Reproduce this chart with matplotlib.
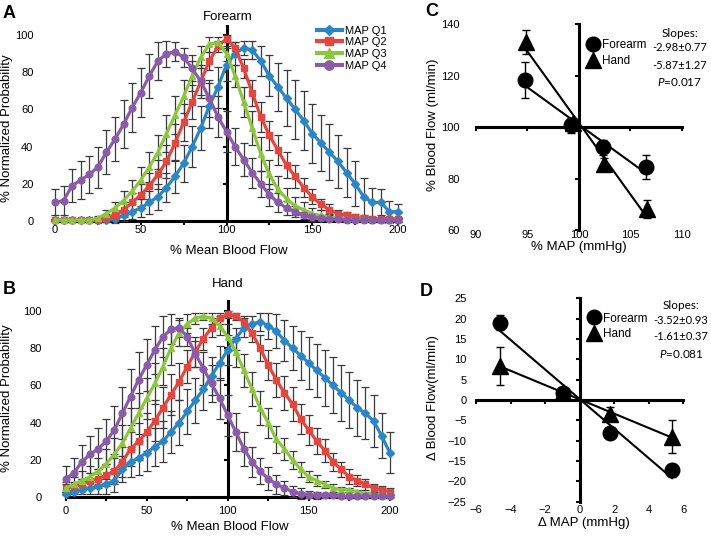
import matplotlib
matplotlib.use('Agg')
import matplotlib.pyplot as plt
from matplotlib.lines import Line2D
import numpy as np

plt.rcParams['font.family'] = ['Liberation Sans', 'DejaVu Sans']
plt.rcParams['mathtext.fontset'] = 'custom'
plt.rcParams['mathtext.it'] = 'Lato:italic'
plt.rcParams['mathtext.rm'] = 'Lato'

# ---------------- data ----------------
flow_pct = [0, 5, 10, 15, 20, 25, 30, 35, 40, 45, 50, 55, 60, 65, 70, 75, 80, 85, 90, 95, 100,
            105, 110, 115, 120, 125, 130, 135, 140, 145, 150, 155, 160, 165, 170, 175, 180, 185, 190, 195, 200]

series_names = ['MAP Q1', 'MAP Q2', 'MAP Q3', 'MAP Q4']

# Panel A (Forearm)
fa_q1 = [0.5, 0.5, 0.5, 0.5, 0.5, 0.5, 0.5, 1, 3, 5, 7, 10, 13, 18, 24, 31, 40, 50, 62, 72, 84,
         90, 93, 92, 86, 78, 72, 66, 60, 54, 47, 42, 37, 32, 26, 20, 13, 10, 10, 5, 5]
fa_q2 = [0.5, 0.5, 0.5, 0.5, 0.5, 0.5, 1.5, 3, 6, 10, 14, 19, 25, 32, 42, 53, 64, 75, 86, 94, 98,
         93, 82, 69, 56, 46, 38, 30, 24, 18, 13, 9, 6, 4, 3, 2, 1.5, 1, 1, 1, 1]
fa_q3 = [0.5, 0.5, 0.5, 0.5, 0.5, 1.5, 4, 7, 11, 16, 22, 29, 37, 47, 57, 67, 78, 88, 95, 96, 90,
         78, 64, 50, 36, 25, 17, 12, 8, 6, 4, 3, 2, 1.5, 1, 1, 1, 0.5, 0.5, 0.5, 0.5]
fa_q4 = [10, 11, 19, 22, 25, 29, 37, 44, 52, 61, 69, 78, 86, 90, 91, 88, 82, 75, 66, 56, 48,
         40, 33, 26, 20, 14, 10, 7, 5, 3, 2, 1.5, 1, 1, 0.5, 0.5, 0.5, 0.5, 0.5, 0.5, 0.5]
fa_q1_sd = [0.5, 0.5, 0.5, 0.5, 0.5, 0.5, 1, 2, 3, 4, 5, 6, 7, 8, 9, 10, 11, 12, 12, 11, 9,
            6, 4, 5, 8, 11, 13, 15, 16, 16, 16, 15, 15, 14, 13, 12, 10, 8, 7, 6, 4]
fa_q2_sd = [0.5, 0.5, 0.5, 0.5, 0.5, 1, 2, 3, 4, 5, 6, 7, 8, 9, 10, 10, 9, 7, 5, 3, 2,
            3, 5, 7, 8, 8, 8, 7, 6, 5, 4, 3, 3, 2, 2, 1.5, 1, 1, 1, 1, 1]
fa_q3_sd = [0.5, 0.5, 0.5, 0.5, 0.5, 1, 2, 3, 5, 6, 7, 8, 9, 10, 10, 9, 8, 6, 4, 3, 4,
            6, 8, 9, 9, 8, 7, 6, 5, 4, 3, 3, 2, 1, 1, 1, 1, 1, 1, 1, 1]
fa_q4_sd = [7, 8, 9, 10, 10, 11, 12, 12, 13, 13, 13, 12, 10, 7, 5, 5, 7, 9, 10, 11, 11,
            10, 9, 8, 7, 6, 5, 4, 3, 2, 2, 1, 1, 1, 1, 1, 1, 1, 1, 1, 1]

# Panel B (Hand)
hd_q1 = [2, 3, 4, 5, 6, 7, 9, 15, 19, 21, 24, 27, 30, 35, 40, 46, 52, 58, 65, 72, 79,
         85, 91, 93, 94, 92, 89, 84, 80, 76, 72, 68, 64, 60, 56, 52, 48, 45, 41, 33, 24]
hd_q2 = [5, 6, 7, 9, 10, 12, 14, 19, 26, 30, 35, 41, 48, 55, 62, 70, 78, 85, 91, 96, 98,
         97, 94, 88, 80, 71, 63, 56, 50, 42, 36, 30, 25, 19, 15, 11, 9, 7, 5, 4, 3]
hd_q3 = [5, 7, 9, 11, 14, 18, 23, 29, 37, 45, 53, 61, 70, 80, 88, 93, 96, 97, 96, 92, 86,
         78, 68, 58, 48, 40, 31, 26, 20, 15, 11, 9, 7, 5, 4, 4, 3, 2, 1.5, 1, 1]
hd_q4 = [10, 13, 19, 23, 26, 30, 36, 45, 54, 63, 71, 79, 86, 90, 91, 86, 77, 69, 61, 53, 44,
         35, 26, 19, 14, 10, 7, 5, 3, 2, 1.5, 1, 1, 1, 0.5, 0.5, 0.5, 0.5, 0.5, 0.5, 0.5]
hd_q1_sd = [1, 1, 2, 3, 4, 5, 6, 7, 8, 9, 10, 10, 11, 11, 12, 12, 12, 11, 10, 9, 8,
            6, 5, 4, 5, 7, 9, 11, 12, 13, 14, 14, 15, 15, 15, 15, 15, 14, 14, 12, 11]
hd_q2_sd = [2, 2, 3, 4, 5, 6, 7, 8, 9, 10, 10, 11, 11, 11, 10, 9, 8, 6, 5, 3, 2,
            2, 3, 5, 7, 8, 9, 9, 9, 8, 8, 7, 6, 5, 4, 4, 3, 3, 2, 2, 2]
hd_q3_sd = [3, 4, 5, 6, 7, 8, 9, 10, 11, 11, 11, 11, 10, 9, 7, 5, 3, 2, 3, 5, 7,
            8, 9, 9, 9, 8, 7, 6, 5, 4, 3, 3, 2, 2, 1.5, 1, 1, 1, 1, 1, 1]
hd_q4_sd = [7, 8, 9, 10, 11, 12, 13, 14, 15, 15, 14, 13, 11, 8, 5, 5, 7, 9, 10, 11, 11,
            10, 9, 8, 7, 6, 5, 4, 3, 3, 2, 2, 1.5, 1, 1, 1, 1, 1, 1, 1, 1]

# Panel C (% change)
c_map_fa = [94.8, 99.2, 102.3, 106.5]
c_bf_fa = [118.4, 100.6, 92.1, 84.5]
c_bf_fa_err = [7, 3, 3, 4.5]
c_map_hd = [94.9, 99.4, 102.4, 106.6]
c_bf_hd = [133, 101.5, 85.6, 68.1]
c_bf_hd_err = [4.5, 2, 2.5, 3.5]

# Panel D (absolute change)
d_map_fa = [-4.63, -0.94, 1.77, 5.35]
d_bf_fa = [19.0, 1.6, -8.0, -17.3]
d_bf_fa_err = [1.9, 1.0, 0.8, 1.6]
d_map_hd = [-4.63, -0.94, 1.77, 5.35]
d_bf_hd = [8.4, 1.9, -3.4, -9.0]
d_bf_hd_err = [4.6, 1.0, 1.8, 4.0]

slopes_c = ['-2.98\u00b10.77', '-5.87\u00b11.27']
p_c = '0.017'
slopes_d = ['-3.52\u00b10.93', '-1.61\u00b10.37']
p_d = '0.081'

# ---------------- styles ----------------
colors = ['#2C86C4', '#E3463E', '#8CC63F', '#8A5BA8']
markers = ['D', 's', '^', 'o']
msizes = [3.6, 4.2, 5.0, 4.8]

W, H = 711, 536
fig = plt.figure(figsize=(W / 100, H / 100), dpi=100)


def rect(l, r, t, b):
    return [l / W, 1 - b / H, (r - l) / W, (b - t) / H]


def ftext(px, py, s, **kw):
    fig.text(px / W, 1 - py / H, s, **kw)


def dist_panel(ax, ys, sds, ypad, xpad):
    for y, e, c, m, ms in zip(ys, sds, colors, markers, msizes):
        ax.errorbar(flow_pct, y, yerr=e, color=c, ecolor='#3a3a3a', elinewidth=0.9,
                    capsize=2.6, capthick=0.9, lw=2.3, marker=m, ms=ms, mec=c,
                    clip_on=False, zorder=3)
    ax.set_xlim(0, 200)
    ax.set_ylim(0, 105)
    for s in ['top', 'right']:
        ax.spines[s].set_visible(False)
    ax.spines['left'].set_position(('data', 100))
    ax.spines['left'].set_linewidth(2.2)
    ax.spines['bottom'].set_linewidth(2.2)
    ax.spines['left'].set_zorder(2)
    ax.set_xticks([0, 25, 50, 75, 100, 125, 150, 175, 200])
    ax.set_yticks([0, 20, 40, 60, 80, 100])
    ax.tick_params(axis='both', direction='out', length=3, width=1.5, labelleft=False,
                   labelbottom=False)
    secx = ax.secondary_xaxis(0)
    secx.set_xticks([0, 50, 100, 150, 200])
    secx.tick_params(length=0, pad=xpad, labelsize=8)
    secy = ax.secondary_yaxis(0)
    secy.set_yticks([0, 20, 40, 60, 80, 100])
    secy.tick_params(length=0, pad=ypad, labelsize=8)
    for sec in (secx, secy):
        for s in sec.spines.values():
            s.set_visible(False)


axA = fig.add_axes(rect(55, 398, 25.7, 221))
dist_panel(axA, [fa_q1, fa_q2, fa_q3, fa_q4], [fa_q1_sd, fa_q2_sd, fa_q3_sd, fa_q4_sd], 15.5, 3.2)
handles = [Line2D([], [], color=c, marker=m, ms=ms * 1.4, lw=3) for c, m, ms in zip(colors, markers, msizes)]
axA.legend(handles, series_names, loc='upper left', bbox_to_anchor=(0.763, 1.0), frameon=False,
           fontsize=8, handlelength=2.25, handletextpad=0.3, labelspacing=0.15, borderpad=0,
           borderaxespad=0)

axB = fig.add_axes(rect(65.7, 389.7, 301.4, 497.3))
dist_panel(axB, [hd_q1, hd_q2, hd_q3, hd_q4], [hd_q1_sd, hd_q2_sd, hd_q3_sd, hd_q4_sd], 17, 6)


def cross_panel(ax, xlim, ylim, xticks, yticks, origin, xpad, ypad):
    ax.set_xlim(*xlim)
    ax.set_ylim(*ylim)
    for s in ['top', 'right']:
        ax.spines[s].set_visible(False)
    ax.spines['left'].set_position(('data', origin[0]))
    ax.spines['bottom'].set_position(('data', origin[1]))
    ax.spines['left'].set_linewidth(2.2)
    ax.spines['bottom'].set_linewidth(2.2)
    ax.set_xticks(xticks)
    ax.set_yticks(yticks)
    ax.tick_params(axis='both', direction='out', length=3, width=1.5, labelleft=False,
                   labelbottom=False)
    secx = ax.secondary_xaxis(0)
    secx.set_xticks(xticks)
    secx.tick_params(length=0, pad=xpad, labelsize=8)
    secy = ax.secondary_yaxis(0)
    secy.set_yticks(yticks)
    secy.tick_params(length=0, pad=ypad, labelsize=8)
    for sec in (secx, secy):
        for s in sec.spines.values():
            s.set_visible(False)


def scatter_fit(ax, xf, yf, ef, xh, yh, eh, slopes, p, lx, ly, ty):
    for xv, yv, ev, m, ms in [(xf, yf, ef, 'o', 10.5), (xh, yh, eh, '^', 11.5)]:
        fit = np.polyfit(xv, yv, 1)
        xs = np.array([min(xv), max(xv)])
        ax.plot(xs, np.polyval(fit, xs), color='black', lw=1.5, zorder=3)
        ax.errorbar(xv, yv, yerr=ev, fmt=m, color='black', ms=ms, capsize=3.2,
                    elinewidth=1, capthick=1, zorder=4, clip_on=False)
    hs = [Line2D([], [], ls='', marker='o', color='black', ms=10.5),
          Line2D([], [], ls='', marker='^', color='black', ms=11.5)]
    ax.legend(hs, ['Forearm', 'Hand'], loc='upper left', bbox_to_anchor=(lx, ly), frameon=False,
              fontsize=8.5, handlelength=1.0, handletextpad=0.3, labelspacing=0.3,
              borderpad=0, borderaxespad=0)
    ax.text(0.99, ty[0], 'Slopes:', transform=ax.transAxes, ha='center', va='center',
            fontsize=8.5, family='Lato')
    ax.text(0.857, ty[1], slopes[0], transform=ax.transAxes, ha='left', va='center',
            fontsize=8, family='Lato')
    ax.text(0.857, ty[2], slopes[1], transform=ax.transAxes, ha='left', va='center',
            fontsize=8, family='Lato')
    ax.text(0.99, ty[3], r'$\mathit{P}$=' + p, transform=ax.transAxes, ha='center',
            va='center', fontsize=8.5, family='Lato')


axC = fig.add_axes(rect(476, 681.7, 24, 230))
cross_panel(axC, (90, 110), (60, 140), [90, 95, 100, 105, 110], [60, 80, 100, 120, 140],
            (100, 100), 0, 11.5)
scatter_fit(axC, c_map_fa, c_bf_fa, c_bf_fa_err, c_map_hd, c_bf_hd, c_bf_hd_err, slopes_c, p_c,
            0.54, 0.925, [0.956, 0.887, 0.80, 0.72])

axD = fig.add_axes(rect(476, 683.3, 298.3, 501.7))
cross_panel(axD, (-6, 6), (-25, 25), [-6, -4, -2, 0, 2, 4, 6],
            [-25, -20, -15, -10, -5, 0, 5, 10, 15, 20, 25], (0, 0), 2.2, 6.7)
scatter_fit(axD, d_map_fa, d_bf_fa, d_bf_fa_err, d_map_hd, d_bf_hd, d_bf_hd_err, slopes_d, p_d,
            0.54, 0.93, [0.966, 0.893, 0.811, 0.726])

# ---------------- texts ----------------
lab = dict(fontsize=9.5, ha='center', va='center')
ftext(228, 16.5, 'Forearm', **lab)
ftext(229, 251, '% Mean Blood Flow', **lab)
ftext(6.7, 128, '% Normalized Probability', rotation=90, **lab)
ftext(227.7, 284, 'Hand', **lab)
ftext(230, 526.7, '% Mean Blood Flow', **lab)
ftext(6.7, 398, '% Normalized Probability', rotation=90, **lab)
ftext(433, 125, '% Blood Flow (ml/min)', rotation=90, **lab)
ftext(579, 246.7, '% MAP (mmHg)', **lab)
ftext(433, 398, '\u0394 Blood Flow(ml/min)', rotation=90, **lab)
ftext(584, 523, '\u0394 MAP (mmHg)', **lab)

let = dict(fontsize=13, fontweight='bold', ha='center', va='center')
ftext(9, 13.5, 'A', **let)
ftext(9, 289, 'B', **let)
ftext(431.5, 11.5, 'C', **let)
ftext(426.7, 291.7, 'D', **let)

fig.savefig('out.png', dpi=100)
